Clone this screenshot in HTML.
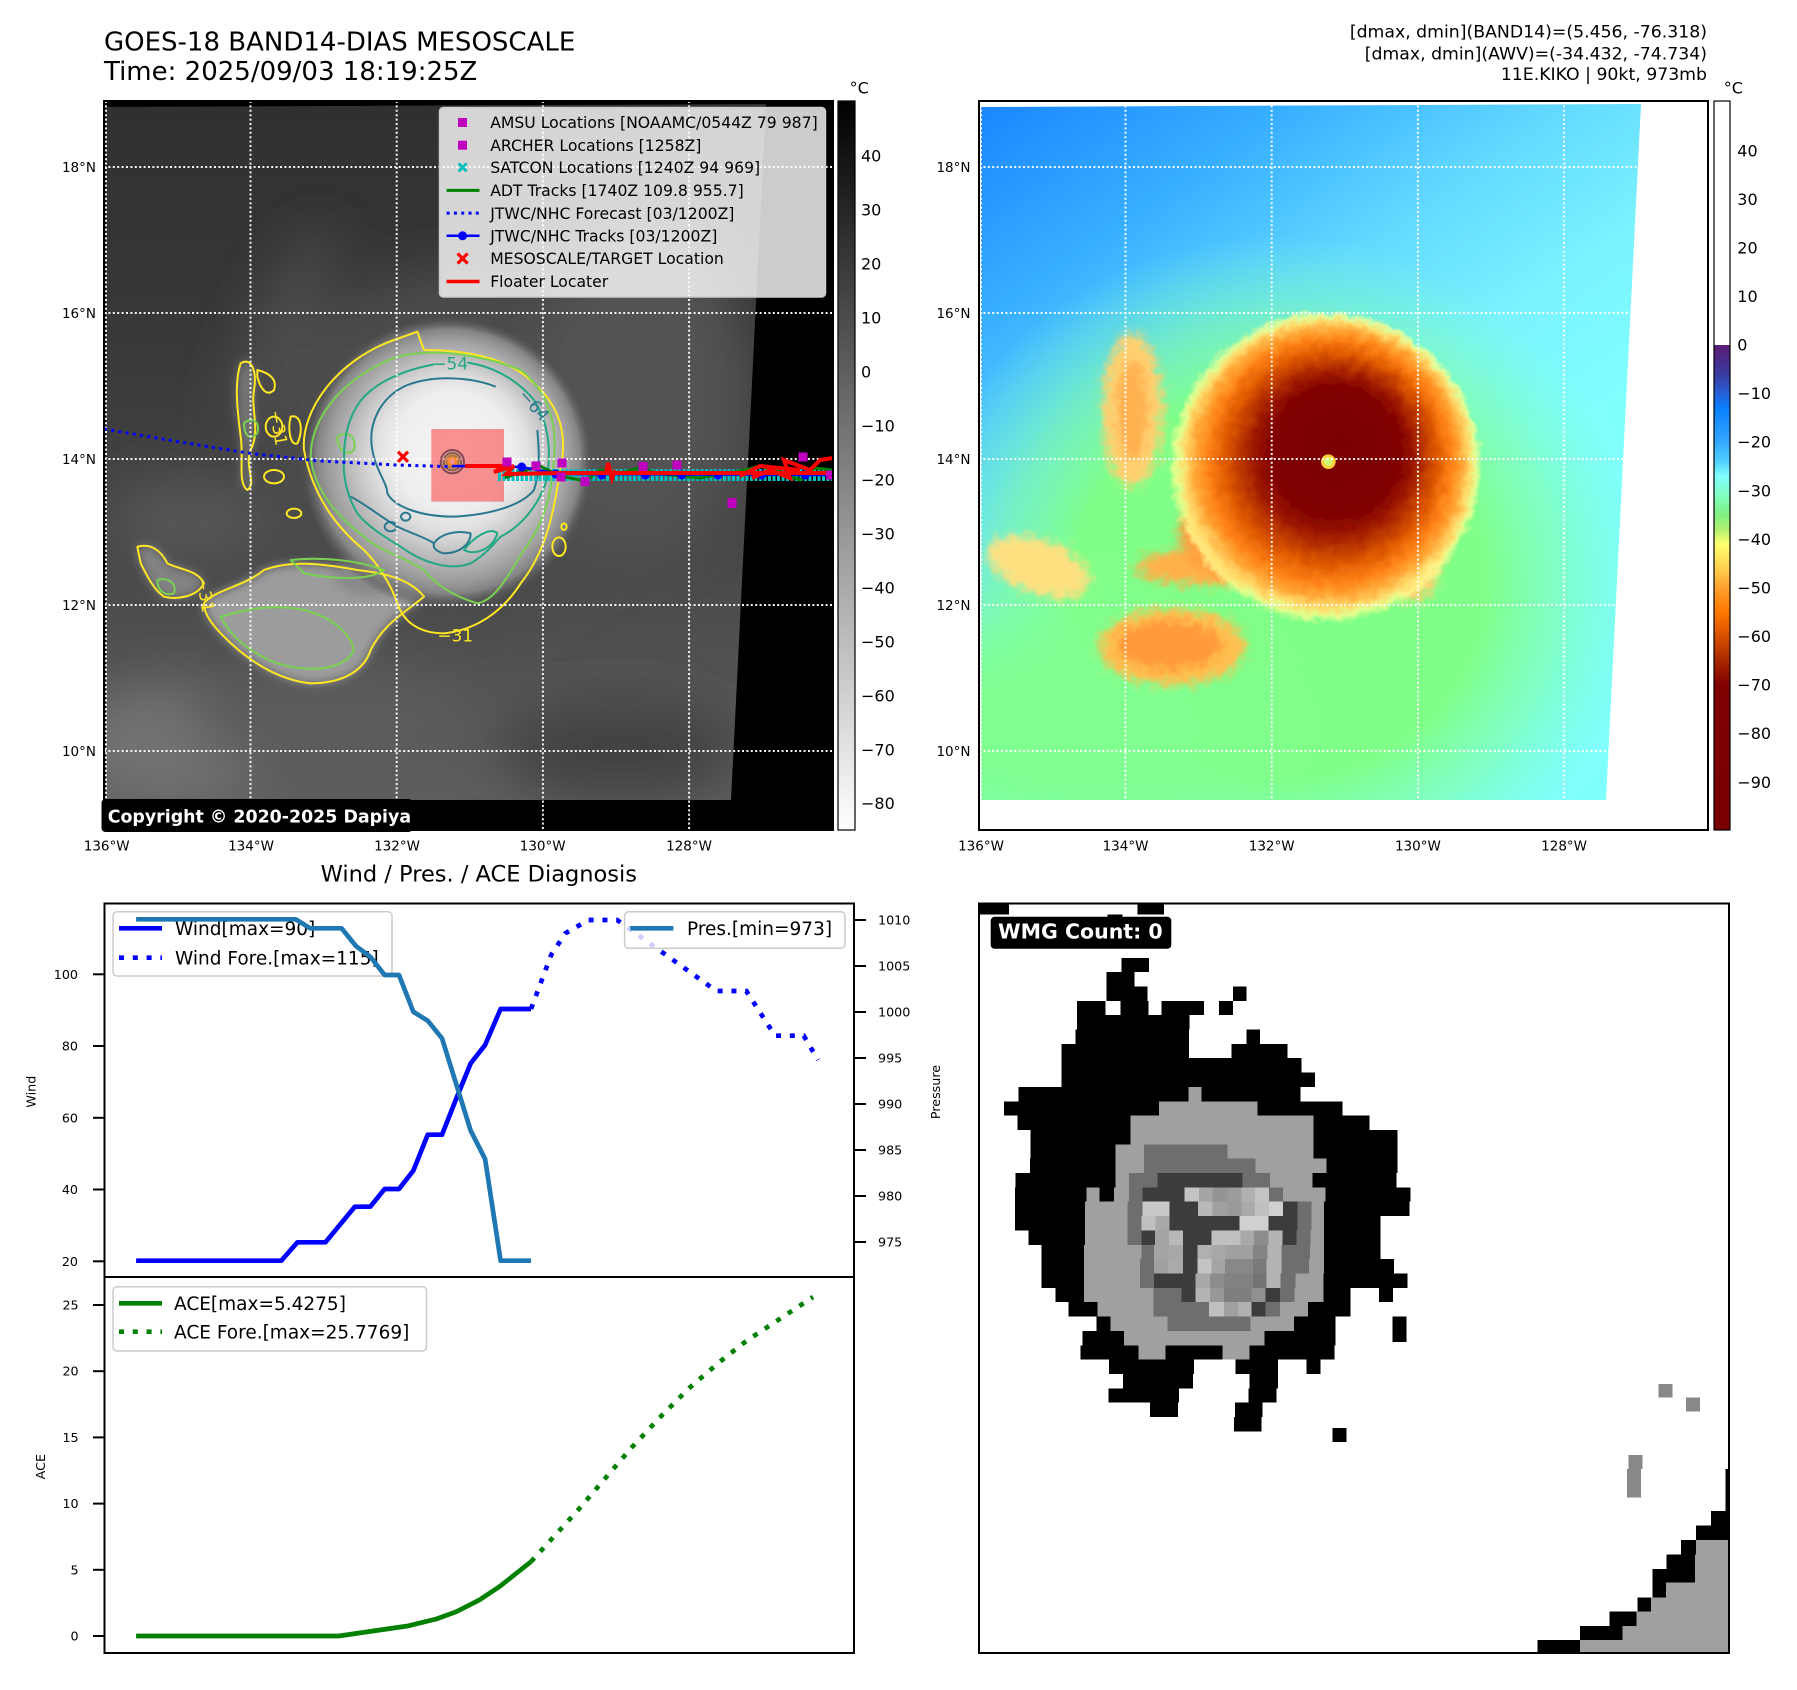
<!DOCTYPE html>
<html>
<head>
<meta charset="utf-8">
<style>
html,body{margin:0;padding:0;background:#fff;}
svg{display:block;}
text{font-family:"DejaVu Sans","Liberation Sans",sans-serif;}
</style>
</head>
<body>
<svg width="1797" height="1690" viewBox="0 0 1797 1690" xmlns="http://www.w3.org/2000/svg">
<defs>
  <clipPath id="cl1"><polygon points="106,107 766,104 731,800 106,800"/></clipPath>
  <clipPath id="cl2"><polygon points="981,107 1641,104 1606,800 981,800"/></clipPath>
  <clipPath id="axL"><rect x="104" y="101" width="729" height="729"/></clipPath>
  <filter id="b15" x="-50%" y="-50%" width="200%" height="200%"><feGaussianBlur stdDeviation="15"/></filter>
  <filter id="b25" x="-50%" y="-50%" width="200%" height="200%"><feGaussianBlur stdDeviation="25"/></filter>
  <filter id="b40" x="-50%" y="-50%" width="200%" height="200%"><feGaussianBlur stdDeviation="40"/></filter>
  <filter id="feather" x="-20%" y="-20%" width="140%" height="140%">
    <feTurbulence type="fractalNoise" baseFrequency="0.03" numOctaves="3" seed="7" result="n"/>
    <feDisplacementMap in="SourceGraphic" in2="n" scale="35" xChannelSelector="R" yChannelSelector="G"/>
  </filter>
  <filter id="featherB" x="-30%" y="-30%" width="160%" height="160%">
    <feGaussianBlur in="SourceGraphic" stdDeviation="14" result="bl"/>
    <feTurbulence type="fractalNoise" baseFrequency="0.035" numOctaves="3" seed="11" result="n"/>
    <feDisplacementMap in="bl" in2="n" scale="45" xChannelSelector="R" yChannelSelector="G"/>
  </filter>
  <linearGradient id="grayV" gradientUnits="userSpaceOnUse" x1="0" y1="104" x2="0" y2="800">
    <stop offset="0" stop-color="#303030"/>
    <stop offset="0.33" stop-color="#383838"/>
    <stop offset="0.65" stop-color="#484848"/>
    <stop offset="1" stop-color="#5e5e5e"/>
  </linearGradient>
  <radialGradient id="stormG" gradientUnits="userSpaceOnUse" cx="1030" cy="640" r="440" fx="1060" fy="580">
    <stop offset="0" stop-color="#f4f4f4"/>
    <stop offset="0.4" stop-color="#eeeeee"/>
    <stop offset="0.52" stop-color="#e0e0e0"/>
    <stop offset="0.62" stop-color="#cbcbcb"/>
    <stop offset="0.72" stop-color="#b4b4b4"/>
    <stop offset="0.82" stop-color="#9e9e9e"/>
    <stop offset="0.9" stop-color="#858585"/>
    <stop offset="0.96" stop-color="#606060" stop-opacity="0.6"/>
    <stop offset="1" stop-color="#505050" stop-opacity="0"/>
  </radialGradient>
  <linearGradient id="awvBase" gradientUnits="userSpaceOnUse" x1="981" y1="107" x2="1330" y2="600">
    <stop offset="0" stop-color="#1a86ff"/>
    <stop offset="0.3" stop-color="#38b0ff"/>
    <stop offset="0.55" stop-color="#62d8ff"/>
    <stop offset="0.78" stop-color="#7af2ff"/>
    <stop offset="1" stop-color="#80ffff"/>
  </linearGradient>
  <radialGradient id="halo2" cx="0.5" cy="0.5" r="0.5">
    <stop offset="0" stop-color="#80ff88"/>
    <stop offset="0.55" stop-color="#80ff88"/>
    <stop offset="0.75" stop-color="#80ffa0" stop-opacity="0.6"/>
    <stop offset="1" stop-color="#80ffd0" stop-opacity="0"/>
  </radialGradient>
  <radialGradient id="stormC" gradientUnits="userSpaceOnUse" cx="1040" cy="650" r="470" fx="1090" fy="575">
    <stop offset="0" stop-color="#7a0000"/>
    <stop offset="0.41" stop-color="#800000"/>
    <stop offset="0.5" stop-color="#981400"/>
    <stop offset="0.58" stop-color="#b83400"/>
    <stop offset="0.68" stop-color="#e05a00"/>
    <stop offset="0.78" stop-color="#ff8418"/>
    <stop offset="0.85" stop-color="#ffa838"/>
    <stop offset="0.91" stop-color="#ffd868"/>
    <stop offset="0.96" stop-color="#ffff90" stop-opacity="0.75"/>
    <stop offset="1" stop-color="#ffff90" stop-opacity="0"/>
  </radialGradient>
  <linearGradient id="cb1" x1="0" y1="0" x2="0" y2="1">
    <stop offset="0" stop-color="#000"/>
    <stop offset="1" stop-color="#fff"/>
  </linearGradient>
  <linearGradient id="cb2" x1="0" y1="0" x2="0" y2="1">
    <stop offset="0" stop-color="#fff"/>
    <stop offset="0.3344" stop-color="#fff"/>
    <stop offset="0.3345" stop-color="#5b1c74"/>
    <stop offset="0.3744" stop-color="#3a3aa0"/>
    <stop offset="0.4011" stop-color="#2660d8"/>
    <stop offset="0.4211" stop-color="#0a80ff"/>
    <stop offset="0.4677" stop-color="#34a8ff"/>
    <stop offset="0.4944" stop-color="#50d0ff"/>
    <stop offset="0.5144" stop-color="#80ffff"/>
    <stop offset="0.5410" stop-color="#80ffc0"/>
    <stop offset="0.5676" stop-color="#80f080"/>
    <stop offset="0.5876" stop-color="#b0f070"/>
    <stop offset="0.6076" stop-color="#ffff70"/>
    <stop offset="0.6409" stop-color="#ffd050"/>
    <stop offset="0.6676" stop-color="#ffa030"/>
    <stop offset="0.7009" stop-color="#ff7800"/>
    <stop offset="0.7342" stop-color="#d85000"/>
    <stop offset="0.7675" stop-color="#a82800"/>
    <stop offset="0.8008" stop-color="#800000"/>
    <stop offset="1" stop-color="#780000"/>
  </linearGradient>
  <path id="swband" d="M300,1060 C330,1020 420,1010 480,960 C560,930 650,940 760,960 C850,970 920,990 960,1040 C900,1090 840,1120 800,1200 C780,1260 720,1300 620,1300 C520,1290 430,1230 360,1160 C320,1120 300,1090 300,1060 Z"/>
  <path id="weststrip" d="M410,340 C440,320 460,360 450,420 C440,480 470,540 440,600 C420,650 460,700 430,720 C400,700 420,620 410,560 C400,480 390,400 410,340 Z"/>
  <path id="farsw" d="M100,890 C140,880 170,900 190,940 C230,960 280,960 300,1000 C280,1040 220,1050 180,1040 C150,1020 130,980 110,940 Z"/>
</defs>

<!-- ===== Titles ===== -->
<text x="104" y="50.7" font-size="26" fill="#000">GOES-18 BAND14-DIAS MESOSCALE</text>
<text x="104" y="80" font-size="26" fill="#000">Time: 2025/09/03 18:19:25Z</text>
<text x="1707" y="37.7" font-size="17.3" text-anchor="end">[dmax, dmin](BAND14)=(5.456, -76.318)</text>
<text x="1707" y="59.3" font-size="17.3" text-anchor="end">[dmax, dmin](AWV)=(-34.432, -74.734)</text>
<text x="1707" y="80" font-size="17.3" text-anchor="end">11E.KIKO | 90kt, 973mb</text>

<!-- ===== Left map ===== -->
<rect x="104" y="101" width="729" height="729" fill="#000"/>
<g clip-path="url(#cl1)">
  <rect x="100" y="100" width="700" height="710" fill="url(#grayV)"/>
  <g filter="url(#b25)">
    <ellipse cx="455" cy="450" rx="190" ry="180" fill="#4c4c4c"/>
    <ellipse cx="640" cy="390" rx="110" ry="170" fill="#535353"/>
    <ellipse cx="170" cy="745" rx="100" ry="60" fill="#727272"/>
    <ellipse cx="620" cy="750" rx="120" ry="50" fill="#424242"/>
    <ellipse cx="190" cy="520" rx="80" ry="40" fill="#565656"/>
    <ellipse cx="280" cy="330" rx="30" ry="110" fill="#4c4c4c" transform="rotate(25 280 330)"/>
    <ellipse cx="330" cy="720" rx="140" ry="50" fill="#5c5c5c"/>
  </g>
  <g transform="translate(104 250) scale(0.333333)">
    <g filter="url(#b15)">
      <use href="#swband" fill="#9c9c9c"/>
      <use href="#weststrip" fill="#767676"/>
      <use href="#farsw" fill="#838383"/>
      <ellipse cx="800" cy="980" rx="110" ry="60" fill="#8a8a8a"/>
    </g>
    <ellipse cx="1030" cy="640" rx="440" ry="440" fill="url(#stormG)"/>
  </g>
</g>

<!-- contours (zoom coords) -->
<g transform="translate(104 250) scale(0.333333)" fill="none" stroke-width="6" stroke-linejoin="round">
  <g stroke="#fde725">
    <path d="M600,600 C590,480 700,330 870,270 L940,245 L960,300 C1050,300 1200,310 1290,400 C1370,470 1390,560 1370,650 C1350,780 1330,900 1250,1000 C1200,1080 1120,1140 1020,1150 C950,1150 900,1120 880,1060 C860,1000 820,940 780,900 C720,850 630,760 600,600 Z"/>
    <use href="#swband"/>
    <use href="#weststrip"/>
    <use href="#farsw"/>
    <path d="M460,360 C500,370 520,390 510,420 C490,440 470,420 460,380 Z"/>
    <path d="M560,500 C590,490 600,540 580,580 C560,590 550,540 560,500 Z"/>
    <ellipse cx="510" cy="530" rx="25" ry="30"/>
    <ellipse cx="510" cy="680" rx="30" ry="20"/>
    <ellipse cx="570" cy="790" rx="22" ry="14"/>
    <ellipse cx="1365" cy="890" rx="20" ry="28"/>
    <ellipse cx="1380" cy="830" rx="8" ry="10"/>
  </g>
  <g stroke="#7ad151">
    <path d="M620,620 C620,500 720,380 880,320 C1000,290 1150,320 1250,360 C1330,420 1360,520 1350,620 C1345,730 1320,820 1260,900 C1220,960 1180,1050 1120,1060 C1050,1040 990,1000 960,960 C900,920 820,900 780,860 C700,800 630,720 620,620 Z"/>
    <path d="M350,1100 C420,1080 500,1060 600,1080 C680,1100 740,1150 750,1200 C720,1260 620,1270 520,1240 C440,1210 380,1160 350,1100 Z"/>
    <path d="M560,930 C650,920 760,930 840,960 C800,990 700,990 600,970 Z"/>
    <path d="M420,520 C440,500 470,510 460,550 C440,570 420,560 420,520 Z"/>
    <path d="M160,990 C190,980 220,1000 210,1030 C180,1040 160,1020 160,990 Z"/>
    <path d="M700,560 C730,540 760,560 750,600 C730,620 700,600 700,560 Z"/>
  </g>
  <g stroke="#22a884">
    <path d="M990,343 C900,360 830,390 780,440 C735,490 720,560 720,620 C715,680 730,740 760,790 C800,840 860,870 920,910 C980,945 1050,960 1100,940 C1150,910 1170,880 1190,860 C1250,830 1300,770 1325,700 C1345,610 1335,520 1290,450 C1240,390 1170,350 1090,338"/>
    <path d="M1080,900 C1110,860 1160,830 1180,850 C1170,890 1120,920 1080,900 Z"/>
  </g>
  <g stroke="#2a788e">
    <path d="M1175,410 C1100,380 990,375 910,405 C830,440 790,520 805,600 C815,660 850,700 850,730 C870,770 950,800 1050,800 C1150,795 1250,770 1290,720 C1310,660 1305,600 1300,540"/>
    <path d="M990,880 C1010,850 1060,840 1100,850 C1100,880 1070,910 1020,910 C1000,905 985,895 990,880 Z"/>
    <path d="M740,740 C780,760 830,800 880,830 C920,850 960,860 990,880"/>
    <ellipse cx="860" cy="830" rx="18" ry="14"/>
    <ellipse cx="905" cy="800" rx="14" ry="12"/>
  </g>
  <circle cx="1045" cy="635" r="35" stroke="#2a788e"/>
  <circle cx="1045" cy="635" r="26" stroke="#22a884"/>
  <circle cx="1045" cy="635" r="18" stroke="#7ad151"/>
  <circle cx="1045" cy="635" r="11" stroke="#fde725"/>
  <g font-size="51" stroke="none">
    <text x="985" y="358" fill="#22a884">−54</text>
    <text x="1220" y="455" fill="#2a788e" transform="rotate(48 1250 470)">−64</text>
    <text x="1000" y="1175" fill="#fde725">−31</text>
    <text x="500" y="520" fill="#fde725" transform="rotate(80 520 500)">−31</text>
    <text x="280" y="1020" fill="#fde725" transform="rotate(80 300 1000)">−31</text>
  </g>
</g>

<!-- left gridlines -->
<g stroke="#fff" stroke-width="2" stroke-dasharray="2 2.4" opacity="0.95">
  <line x1="104" y1="167" x2="833" y2="167"/>
  <line x1="104" y1="313" x2="833" y2="313"/>
  <line x1="104" y1="459" x2="833" y2="459"/>
  <line x1="104" y1="605" x2="833" y2="605"/>
  <line x1="104" y1="751" x2="833" y2="751"/>
  <line x1="106" y1="101" x2="106" y2="830"/>
  <line x1="250.5" y1="101" x2="250.5" y2="830"/>
  <line x1="396.7" y1="101" x2="396.7" y2="830"/>
  <line x1="542.9" y1="101" x2="542.9" y2="830"/>
  <line x1="689.1" y1="101" x2="689.1" y2="830"/>
</g>

<!-- tracks & markers -->
<g clip-path="url(#axL)">
  <rect x="431.3" y="429" width="72.7" height="72.7" fill="#ff0000" fill-opacity="0.4"/>
  <polyline points="104,429 180,442 251,453.5 320,461 397,465 452,466.7" fill="none" stroke="#0000ff" stroke-width="3" stroke-dasharray="3 4.3"/>
  <line x1="498" y1="475" x2="833" y2="475" stroke="#00bfbf" stroke-width="12" stroke-dasharray="3 1.5"/>
  <polyline points="505,478 520,472 540,466 560,476 585,481 600,470 620,473 640,468 660,474 700,478 745,470 760,466 780,472 800,480 815,468 833,470" fill="none" stroke="#008000" stroke-width="3"/>
  <polyline points="452,466 521,467 560,474 833,475" fill="none" stroke="#0000ff" stroke-width="2.5"/>
  <g fill="#0000ff">
    <circle cx="521.7" cy="467" r="4.5"/><circle cx="555.6" cy="474" r="4.5"/><circle cx="601.7" cy="475" r="4.5"/>
    <circle cx="645.3" cy="475" r="4.5"/><circle cx="681.7" cy="475" r="4.5"/><circle cx="718" cy="475" r="4.5"/>
    <circle cx="761.7" cy="475" r="4.5"/><circle cx="805.3" cy="475" r="4.5"/>
  </g>
  <g fill="none" stroke="#ff0000" stroke-width="4" stroke-linejoin="miter">
    <polyline points="465,466 505,466 494,472 514,466 506,474 560,473 833,473"/>
    <polyline points="606,474 608,463 612,478 615,470"/>
    <polyline points="752,478 770,470 790,478 784,460 810,470 820,460 833,458"/>
    <polyline points="740,476 760,466 800,470"/>
  </g>
  <g fill="#bf00bf">
    <rect x="502.5" y="457.5" width="9" height="9"/><rect x="531.5" y="461.5" width="9" height="9"/>
    <rect x="557.5" y="458.5" width="9" height="9"/><rect x="556.5" y="472.5" width="9" height="9"/>
    <rect x="580.5" y="477" width="9" height="9"/><rect x="638.5" y="462" width="9" height="9"/>
    <rect x="672.5" y="460.5" width="9" height="9"/><rect x="727.5" y="498" width="9" height="10"/>
    <rect x="798.5" y="452.5" width="9" height="9"/><rect x="826" y="470.5" width="9" height="9"/>
  </g>
  <g stroke="#ff0000" stroke-width="3.2">
    <line x1="398" y1="451.7" x2="408" y2="461.7"/><line x1="408" y1="451.7" x2="398" y2="461.7"/>
  </g>
</g>

<!-- legend left map -->
<rect x="439.5" y="107.5" width="386" height="189.5" rx="4" fill="#fff" fill-opacity="0.8" stroke="#cccccc" stroke-width="1.5"/>
<g font-size="15.65" fill="#000">
  <rect x="458" y="118" width="9" height="9" fill="#bf00bf"/>
  <text x="490.2" y="128.2">AMSU Locations [NOAAMC/0544Z 79 987]</text>
  <rect x="458" y="140.7" width="9" height="9" fill="#bf00bf"/>
  <text x="490.2" y="150.9">ARCHER Locations [1258Z]</text>
  <g stroke="#00bfbf" stroke-width="2.8"><line x1="458.6" y1="163.4" x2="466.6" y2="171.4"/><line x1="466.6" y1="163.4" x2="458.6" y2="171.4"/></g>
  <text x="490.2" y="173.1">SATCON Locations [1240Z 94 969]</text>
  <line x1="446.6" y1="190.4" x2="479.5" y2="190.4" stroke="#008000" stroke-width="3"/>
  <text x="490.2" y="196.1">ADT Tracks [1740Z 109.8 955.7]</text>
  <line x1="446.6" y1="213.1" x2="479.5" y2="213.1" stroke="#0000ff" stroke-width="3" stroke-dasharray="3 4.3"/>
  <text x="490.2" y="218.8">JTWC/NHC Forecast [03/1200Z]</text>
  <line x1="446.6" y1="235.8" x2="479.5" y2="235.8" stroke="#0000ff" stroke-width="2.5"/>
  <circle cx="462.6" cy="235.8" r="4.5" fill="#0000ff"/>
  <text x="490.2" y="241.5">JTWC/NHC Tracks [03/1200Z]</text>
  <g stroke="#ff0000" stroke-width="3.2"><line x1="457.6" y1="253.5" x2="467.6" y2="263.5"/><line x1="467.6" y1="253.5" x2="457.6" y2="263.5"/></g>
  <text x="490.2" y="264.2">MESOSCALE/TARGET Location</text>
  <line x1="446.6" y1="281.5" x2="479.5" y2="281.5" stroke="#ff0000" stroke-width="3.5"/>
  <text x="490.2" y="287.2">Floater Locater</text>
</g>

<!-- copyright -->
<rect x="101.5" y="799" width="311" height="33" rx="4" fill="#000"/>
<text x="107.7" y="822.3" font-size="17.4" font-weight="bold" fill="#fff">Copyright © 2020-2025 Dapiya</text>

<rect x="104" y="101" width="729" height="729" fill="none" stroke="#000" stroke-width="2"/>

<g font-size="13.5" fill="#000">
  <g text-anchor="end">
    <text x="96" y="172">18°N</text><text x="96" y="318">16°N</text><text x="96" y="464">14°N</text>
    <text x="96" y="610">12°N</text><text x="96" y="756">10°N</text>
  </g>
  <g text-anchor="middle">
    <text x="106.7" y="850.7">136°W</text><text x="251" y="850.7">134°W</text><text x="397" y="850.7">132°W</text>
    <text x="542.7" y="850.7">130°W</text><text x="689" y="850.7">128°W</text>
  </g>
</g>

<!-- colorbar 1 -->
<rect x="838" y="101" width="17" height="729" fill="url(#cb1)" stroke="#000" stroke-width="1.2"/>
<text x="849.6" y="93.5" font-size="16">°C</text>
<g font-size="16" fill="#000">
  <text x="861" y="161.7">40</text><text x="861" y="215.7">30</text><text x="861" y="269.6">20</text>
  <text x="861" y="323.6">10</text><text x="861" y="377.5">0</text><text x="861" y="431.5">−10</text>
  <text x="861" y="485.5">−20</text><text x="861" y="539.4">−30</text><text x="861" y="593.4">−40</text>
  <text x="861" y="647.3">−50</text><text x="861" y="701.3">−60</text><text x="861" y="755.3">−70</text>
  <text x="861" y="809.2">−80</text>
</g>

<!-- ===== Right map ===== -->
<rect x="979" y="101" width="729" height="729" fill="#fff"/>
<g clip-path="url(#cl2)">
  <rect x="975" y="100" width="700" height="710" fill="url(#awvBase)"/>
  <ellipse cx="1280" cy="585" rx="370" ry="350" fill="url(#halo2)"/>
  <ellipse cx="1060" cy="730" rx="200" ry="120" fill="#80ff90" filter="url(#b40)"/>
  <g transform="translate(979 250) scale(0.333333)">
    <g filter="url(#featherB)">
      <ellipse cx="580" cy="1190" rx="220" ry="115" fill="#ffc050"/>
      <ellipse cx="570" cy="1185" rx="160" ry="75" fill="#ff9a38"/>
      <ellipse cx="180" cy="950" rx="160" ry="80" fill="#ffe080" transform="rotate(20 180 950)"/>
      <ellipse cx="680" cy="950" rx="210" ry="55" fill="#ffb048"/>
      <ellipse cx="460" cy="480" rx="90" ry="230" fill="#ffd070"/>
      <ellipse cx="460" cy="480" rx="45" ry="150" fill="#ffb050"/>
      <ellipse cx="760" cy="850" rx="160" ry="130" fill="#ffa040"/>
      <ellipse cx="1300" cy="900" rx="90" ry="150" fill="#ffd070"/>
    </g>
    <ellipse cx="1040" cy="650" rx="470" ry="470" fill="url(#stormC)" filter="url(#feather)"/>
    <circle cx="1048" cy="635" r="22" fill="#ffd040"/>
    <circle cx="1048" cy="635" r="12" fill="#c8ff70"/>
  </g>
</g>
<g stroke="#fff" stroke-width="2" stroke-dasharray="2 2.4" opacity="0.95">
  <line x1="979" y1="167" x2="1708" y2="167"/>
  <line x1="979" y1="313" x2="1708" y2="313"/>
  <line x1="979" y1="459" x2="1708" y2="459"/>
  <line x1="979" y1="605" x2="1708" y2="605"/>
  <line x1="979" y1="751" x2="1708" y2="751"/>
  <line x1="981" y1="101" x2="981" y2="830"/>
  <line x1="1125.5" y1="101" x2="1125.5" y2="830"/>
  <line x1="1271.7" y1="101" x2="1271.7" y2="830"/>
  <line x1="1417.9" y1="101" x2="1417.9" y2="830"/>
  <line x1="1564.1" y1="101" x2="1564.1" y2="830"/>
</g>
<rect x="979" y="101" width="729" height="729" fill="none" stroke="#000" stroke-width="2"/>
<g font-size="13.5" fill="#000">
  <g text-anchor="end">
    <text x="970.5" y="172">18°N</text><text x="970.5" y="318">16°N</text><text x="970.5" y="464">14°N</text>
    <text x="970.5" y="610">12°N</text><text x="970.5" y="756">10°N</text>
  </g>
  <g text-anchor="middle">
    <text x="981" y="850.7">136°W</text><text x="1125.5" y="850.7">134°W</text><text x="1271.7" y="850.7">132°W</text>
    <text x="1417.9" y="850.7">130°W</text><text x="1564.1" y="850.7">128°W</text>
  </g>
</g>

<!-- colorbar 2 -->
<rect x="1714" y="101" width="16" height="729" fill="url(#cb2)" stroke="#000" stroke-width="1.2"/>
<text x="1723.8" y="93.5" font-size="16">°C</text>
<g font-size="16" fill="#000">
  <text x="1737.3" y="156.3">40</text><text x="1737.3" y="204.9">30</text><text x="1737.3" y="253.4">20</text>
  <text x="1737.3" y="302">10</text><text x="1737.3" y="350.6">0</text><text x="1737.3" y="399.2">−10</text>
  <text x="1737.3" y="447.7">−20</text><text x="1737.3" y="496.3">−30</text><text x="1737.3" y="544.9">−40</text>
  <text x="1737.3" y="593.5">−50</text><text x="1737.3" y="642.1">−60</text><text x="1737.3" y="690.7">−70</text>
  <text x="1737.3" y="739.2">−80</text><text x="1737.3" y="787.8">−90</text>
</g>

<!-- ===== Wind / Pres chart ===== -->
<text x="478.8" y="881.7" font-size="22.5" text-anchor="middle">Wind / Pres. / ACE Diagnosis</text>
<polyline points="136.1,1260.7 281.3,1260.7 297.4,1242.3 325.5,1242.3 354.8,1206.7 370.3,1206.7 384.6,1189 399,1189 413.3,1170.7 427.7,1134.7 442,1134.7 456.4,1098.3 470.7,1063.3 485.1,1045 500.6,1009 531,1009" fill="none" stroke="#0000ff" stroke-width="4.7" stroke-linejoin="round"/>
<polyline points="531,1009 551.1,955 565.4,933.3 588.4,920 617.1,920 716.4,991 746.3,991 775,1035.7 803.7,1035.7 818,1060" fill="none" stroke="#0000ff" stroke-width="4.7" stroke-dasharray="5 8.8"/>
<rect x="113" y="911.7" width="279" height="64.3" rx="4" fill="#fff" fill-opacity="0.8" stroke="#cccccc" stroke-width="1.5"/>
<line x1="119" y1="928.3" x2="162" y2="928.3" stroke="#0000ff" stroke-width="4.7"/>
<line x1="119" y1="957.7" x2="162" y2="957.7" stroke="#0000ff" stroke-width="4.7" stroke-dasharray="5 8.8"/>
<text x="175" y="935" font-size="18.5">Wind[max=90]</text>
<text x="175" y="964.4" font-size="18.5">Wind Fore.[max=115]</text>
<polyline points="136.1,919.3 295.6,919.3 310,928.3 341.6,928.3 355.9,946 370.3,956.7 384.6,975 399,975 413.3,1011.7 427.7,1020.7 442,1038.3 470.7,1130.7 485.1,1159 500.6,1260.7 531,1260.7" fill="none" stroke="#1f77b4" stroke-width="4.7" stroke-linejoin="round"/>
<rect x="624.6" y="911.7" width="220.4" height="36.6" rx="4" fill="#fff" fill-opacity="0.8" stroke="#cccccc" stroke-width="1.5"/>
<line x1="630.3" y1="928.3" x2="673.4" y2="928.3" stroke="#1f77b4" stroke-width="4.7"/>
<text x="687" y="935" font-size="18.5">Pres.[min=973]</text>

<rect x="104.5" y="903.5" width="749.5" height="373.5" fill="none" stroke="#000" stroke-width="2"/>
<g stroke="#000" stroke-width="2">
  <line x1="93" y1="1261.3" x2="104.5" y2="1261.3"/><line x1="93" y1="1189.5" x2="104.5" y2="1189.5"/>
  <line x1="93" y1="1117.8" x2="104.5" y2="1117.8"/><line x1="93" y1="1046" x2="104.5" y2="1046"/>
  <line x1="93" y1="974.3" x2="104.5" y2="974.3"/>
  <line x1="854" y1="920" x2="866" y2="920"/><line x1="854" y1="966" x2="866" y2="966"/>
  <line x1="854" y1="1012" x2="866" y2="1012"/><line x1="854" y1="1058" x2="866" y2="1058"/>
  <line x1="854" y1="1104" x2="866" y2="1104"/><line x1="854" y1="1150" x2="866" y2="1150"/>
  <line x1="854" y1="1196" x2="866" y2="1196"/><line x1="854" y1="1242" x2="866" y2="1242"/>
</g>
<g font-size="12.7" fill="#000">
  <g text-anchor="end">
    <text x="78" y="1265.8">20</text><text x="78" y="1194">40</text><text x="78" y="1122.3">60</text>
    <text x="78" y="1050.5">80</text><text x="78" y="978.8">100</text>
  </g>
  <text x="878" y="924.5">1010</text><text x="878" y="970.5">1005</text><text x="878" y="1016.5">1000</text>
  <text x="878" y="1062.5">995</text><text x="878" y="1108.5">990</text><text x="878" y="1154.5">985</text>
  <text x="878" y="1200.5">980</text><text x="878" y="1246.5">975</text>
  <text transform="translate(35.5 1091.7) rotate(-90)" text-anchor="middle">Wind</text>
  <text transform="translate(940 1092) rotate(-90)" text-anchor="middle">Pressure</text>
</g>

<!-- ===== ACE chart ===== -->
<polyline points="136.1,1636 338.7,1636 373.1,1631 407.6,1626 436.3,1619 456.4,1611.7 479.3,1600 499.4,1586.7 531,1561.7" fill="none" stroke="#008000" stroke-width="4.7" stroke-linejoin="round"/>
<polyline points="531,1561.7 578.1,1510 631.5,1447.7 659.6,1417.7 688.9,1388.3 720.4,1361.3 746.3,1341 813,1297" fill="none" stroke="#008000" stroke-width="4.7" stroke-dasharray="5 8.8"/>
<rect x="113" y="1286.7" width="313.5" height="64.3" rx="4" fill="#fff" fill-opacity="0.8" stroke="#cccccc" stroke-width="1.5"/>
<line x1="119" y1="1303.3" x2="162" y2="1303.3" stroke="#008000" stroke-width="4.7"/>
<line x1="119" y1="1331.7" x2="162" y2="1331.7" stroke="#008000" stroke-width="4.7" stroke-dasharray="5 8.8"/>
<text x="174" y="1310" font-size="18.5">ACE[max=5.4275]</text>
<text x="174" y="1338.4" font-size="18.5">ACE Fore.[max=25.7769]</text>
<rect x="104.5" y="1277" width="749.5" height="376" fill="none" stroke="#000" stroke-width="2"/>
<g stroke="#000" stroke-width="2">
  <line x1="93" y1="1636" x2="104.5" y2="1636"/><line x1="93" y1="1569.8" x2="104.5" y2="1569.8"/>
  <line x1="93" y1="1503.6" x2="104.5" y2="1503.6"/><line x1="93" y1="1437.4" x2="104.5" y2="1437.4"/>
  <line x1="93" y1="1371.2" x2="104.5" y2="1371.2"/><line x1="93" y1="1305" x2="104.5" y2="1305"/>
</g>
<g font-size="12.7" fill="#000" text-anchor="end">
  <text x="78.6" y="1640.5">0</text><text x="78.6" y="1574.3">5</text><text x="78.6" y="1508.1">10</text>
  <text x="78.6" y="1441.9">15</text><text x="78.6" y="1375.7">20</text><text x="78.6" y="1309.5">25</text>
</g>
<text transform="translate(44.8 1466.7) rotate(-90)" text-anchor="middle" font-size="12.7">ACE</text>

<!-- ===== WMG panel ===== -->
<g transform="translate(979 903) scale(0.333333 0.344353)" shape-rendering="crispEdges">
  <path fill="#000" d="M0 0H90V33.5H0Z M475 0H555V33.5H475Z M385 33.5H430V75H385Z M428 159H510V200H428Z M382 200H466V242H382Z M382 242H506V284H382Z M762 242H803V284H762Z M294 284H380V325H294Z M425 284H508V325H425Z M548 284H675V325H548Z M720 284H762V325H720Z M294 325H632V367H294Z M290 367H630V409H290Z M803 367H843V409H803Z M248 409H630V450H248Z M757 409H925V450H757Z M248 450H968V492H248Z M248 492H1008V534H248Z M118 534H628V576H118Z M668 534H965V576H668Z M75 576H540V617H75Z M836 576H1090V617H836Z M115 617H455V659H115Z M1003 617H1172V659H1003Z M155 659H455V701H155Z M1003 659H1255V701H1003Z M155 701H410V742H155Z M1003 701H1255V742H1003Z M153 742H410V784H153Z M1043 742H1255V784H1043Z M110 784H410V826H110Z M1000 784H1252V826H1000Z M108 826H322V867H108Z M362 826H405V867H362Z M1040 826H1295V867H1040Z M108 867H318V909H108Z M1035 867H1292V909H1035Z M108 909H318V951H108Z M1035 909H1205V951H1035Z M148 951H318V993H148Z M1035 951H1205V993H1035Z M188 993H315V1034H188Z M1035 993H1205V1034H1035Z M188 1034H315V1076H188Z M1035 1034H1245V1076H1035Z M188 1076H315V1118H188Z M1033 1076H1285V1118H1033Z M230 1118H315V1159H230Z M1033 1118H1115V1159H1033Z M1200 1118H1242V1159H1200Z M268 1159H355V1201H268Z M987 1159H1115V1201H987Z M352 1201H395V1243H352Z M945 1201H1070V1243H945Z M1240 1201H1282V1243H1240Z M310 1243H435V1285H310Z M857 1243H1070V1285H857Z M1240 1243H1282V1275H1240Z M305 1285H478V1326H305Z M560 1285H730V1326H560Z M812 1285H1067V1326H812Z M390 1326H645V1368H390Z M770 1326H897V1368H770Z M982 1326H1025V1368H982Z M432 1368H642V1410H432Z M812 1368H897V1410H812Z M388 1410H600V1451H388Z M808 1410H893V1451H808Z M513 1451H597V1493H513Z M768 1451H850V1493H768Z M765 1493H848V1535H765Z M1060 1525H1103V1565H1060Z"/>
  <path fill="#a0a0a0" d="M628 534H668V576H628Z M540 576H836V617H540Z M455 617H1003V659H455Z M455 659H1003V701H455Z M410 701H495V742H410Z M745 701H1003V742H745Z M410 742H495V784H410Z M830 742H1043V784H830Z M410 784H450V826H410Z M873 784H1000V826H873Z M322 826H362V867H322Z M405 826H450V867H405Z M912 826H1040V867H912Z M318 867H445V909H318Z M997 867H1035V909H997Z M318 909H445V951H318Z M997 909H1035V951H997Z M318 951H445V993H318Z M995 951H1035V993H995Z M315 993H487V1034H315Z M993 993H1035V1034H993Z M315 1034H483V1076H315Z M990 1034H1035V1076H990Z M315 1076H483V1118H315Z M950 1076H1033V1118H950Z M315 1118H523V1159H315Z M947 1118H1033V1159H947Z M355 1159H523V1201H355Z M903 1159H987V1201H903Z M395 1201H565V1243H395Z M815 1201H945V1243H815Z M435 1243H857V1285H435Z M478 1285H560V1326H478Z M730 1285H812V1326H730Z"/>
  <path fill="#6e6e6e" d="M495 701H745V742H495Z M495 742H830V784H495Z M450 784H535V826H450Z M790 784H873V826H790Z M450 826H490V867H450Z M870 826H912V867H870Z M445 867H490V909H445Z M955 867H997V909H955Z M445 909H487V951H445Z M955 909H997V951H955Z M445 951H487V993H445Z M952 951H995V993H952Z M487 993H525V1034H487Z M908 993H993V1034H908Z M483 1034H525V1076H483Z M908 1034H990V1076H908Z M483 1076H525V1118H483Z M905 1076H950V1118H905Z M523 1118H608V1159H523Z M903 1118H947V1159H903Z M523 1159H690V1201H523Z M860 1159H903V1201H860Z M565 1201H815V1243H565Z"/>
  <path fill="#3c3c3c" d="M535 784H790V826H535Z M490 826H617V867H490Z M572 867H657V909H572Z M912 867H955V909H912Z M572 909H782V951H572Z M868 909H955V951H868Z M487 951H528V993H487Z M612 951H698V993H612Z M910 951H952V993H910Z M612 993H655V1034H612Z M612 1034H655V1076H612Z M525 1076H650V1118H525Z M608 1118H650V1159H608Z M860 1118H903V1159H860Z M818 1159H860V1201H818Z"/>
  <rect x="617" y="826" width="43" height="41" fill="#c4c4c4"/><rect x="660" y="826" width="40" height="41" fill="#a4a4a4"/>
  <rect x="700" y="826" width="45" height="41" fill="#949494"/><rect x="745" y="826" width="42" height="41" fill="#9c9c9c"/>
  <rect x="787" y="826" width="41" height="41" fill="#b0b0b0"/><rect x="828" y="826" width="42" height="41" fill="#c4c4c4"/>
  <rect x="490" y="867" width="82" height="42" fill="#c8c8c8"/><rect x="657" y="867" width="43" height="42" fill="#b8b8b8"/>
  <rect x="700" y="867" width="45" height="42" fill="#a0a0a0"/><rect x="745" y="867" width="42" height="42" fill="#9a9a9a"/>
  <rect x="787" y="867" width="41" height="42" fill="#aaaaaa"/><rect x="828" y="867" width="42" height="42" fill="#c0c0c0"/>
  <rect x="870" y="867" width="42" height="42" fill="#d0d0d0"/>
  <rect x="487" y="909" width="43" height="42" fill="#c0c0c0"/><rect x="530" y="909" width="42" height="42" fill="#a8a8a8"/>
  <rect x="782" y="909" width="86" height="42" fill="#d0d0d0"/>
  <rect x="528" y="951" width="42" height="42" fill="#a4a4a4"/><rect x="570" y="951" width="42" height="42" fill="#b8b8b8"/>
  <rect x="698" y="951" width="87" height="42" fill="#c0c0c0"/><rect x="785" y="951" width="40" height="42" fill="#a8a8a8"/>
  <rect x="825" y="951" width="43" height="42" fill="#8c8c8c"/><rect x="868" y="951" width="42" height="42" fill="#b4b4b4"/>
  <rect x="525" y="993" width="45" height="41" fill="#a4a4a4"/><rect x="570" y="993" width="42" height="41" fill="#a8a8a8"/>
  <rect x="655" y="993" width="43" height="41" fill="#b0b0b0"/><rect x="698" y="993" width="42" height="41" fill="#a8a8a8"/>
  <rect x="740" y="993" width="82" height="41" fill="#a0a0a0"/><rect x="822" y="993" width="44" height="41" fill="#848484"/>
  <rect x="866" y="993" width="42" height="41" fill="#b4b4b4"/>
  <rect x="525" y="1034" width="42" height="42" fill="#a0a0a0"/><rect x="567" y="1034" width="45" height="42" fill="#aaaaaa"/>
  <rect x="655" y="1034" width="42" height="42" fill="#c4c4c4"/><rect x="697" y="1034" width="41" height="42" fill="#a4a4a4"/>
  <rect x="738" y="1034" width="84" height="42" fill="#888888"/><rect x="822" y="1034" width="41" height="42" fill="#7a7a7a"/>
  <rect x="863" y="1034" width="45" height="42" fill="#b4b4b4"/>
  <rect x="650" y="1076" width="43" height="42" fill="#a8a8a8"/><rect x="693" y="1076" width="42" height="42" fill="#8c8c8c"/>
  <rect x="735" y="1076" width="87" height="42" fill="#828282"/><rect x="822" y="1076" width="41" height="42" fill="#747474"/>
  <rect x="863" y="1076" width="42" height="42" fill="#b4b4b4"/>
  <rect x="650" y="1118" width="43" height="41" fill="#b4b4b4"/><rect x="693" y="1118" width="42" height="41" fill="#989898"/>
  <rect x="735" y="1118" width="83" height="41" fill="#7e7e7e"/><rect x="818" y="1118" width="42" height="41" fill="#909090"/>
  <rect x="690" y="1159" width="45" height="42" fill="#c0c0c0"/><rect x="735" y="1159" width="42" height="42" fill="#a0a0a0"/>
  <rect x="777" y="1159" width="41" height="42" fill="#b0b0b0"/>
</g>
<g transform="translate(1480 1360) scale(0.333333)" shape-rendering="crispEdges">
  <path fill="#888888" d="M535 72H577V113H535Z M618 113H660V155H618Z M445 285H487V327H445Z M441 327H483V413H441Z"/>
  <path fill="#000" d="M737 327H748V453H737Z M693 453H748V497H693Z M648 497H748V540H648Z M603 540H648V583H603Z M560 583H645V627H560Z M517 627H645V668H517Z M517 668H558V712H517Z M472 712H513V755H472Z M388 755H470V798H388Z M300 798H427V840H300Z M172 840H300V880H172Z"/>
  <path fill="#a0a0a0" d="M648 540H748V583H648Z M645 583H748V627H645Z M645 627H748V668H645Z M558 668H748V712H558Z M513 712H748V755H513Z M470 755H748V798H470Z M427 798H748V840H427Z M300 840H748V880H300Z"/>
</g>
<rect x="990.7" y="916.8" width="180.6" height="32" rx="4" fill="#000"/>
<text x="998" y="938.5" font-size="20.5" font-weight="bold" fill="#fff">WMG Count: 0</text>
<rect x="979" y="903.5" width="750" height="749.5" fill="none" stroke="#000" stroke-width="2"/>
</svg>
</body>
</html>
